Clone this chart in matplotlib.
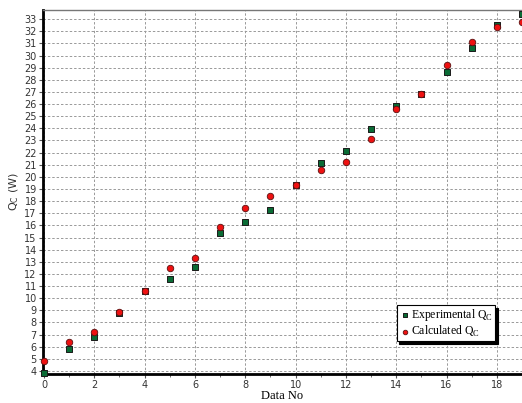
import numpy as np
import matplotlib.pyplot as plt
from matplotlib.ticker import MultipleLocator

data_no = list(range(20))
experimental_qc = [3.8, 5.85, 6.8, 8.75, 10.6, 11.55, 12.6, 15.4, 16.3, 17.3,
                   19.3, 21.1, 22.1, 23.95, 25.85, 26.85, 28.65, 30.6, 32.5, 33.45]
calculated_qc = [4.8, 6.35, 7.2, 8.9, 10.6, 12.45, 13.35, 15.85, 17.4, 18.4,
                 19.3, 20.6, 21.2, 23.15, 25.6, 26.85, 29.2, 31.15, 32.37, 32.76]

fig = plt.figure(figsize=(5.22, 4.03), dpi=100)
ax = fig.add_axes([43 / 522, 29 / 403, 1 - 43 / 522, 364 / 403])

ax.scatter(data_no, experimental_qc, marker='s', s=19, color='#0a6b35',
           edgecolors='#1a1a1a', linewidths=0.7, zorder=3, clip_on=False,
           label='Experimental Q$_\\mathregular{C}$')
ax.scatter(data_no, calculated_qc, marker='o', s=22, color='#ee1111',
           edgecolors='#5a1010', linewidths=0.6, zorder=4, clip_on=False,
           label='Calculated Q$_\\mathregular{C}$')

ax.set_xlim(-0.04, 19)
ax.set_ylim(3.75, 33.75)
ax.xaxis.set_major_locator(MultipleLocator(2))
ax.xaxis.set_minor_locator(MultipleLocator(1))
ax.yaxis.set_major_locator(MultipleLocator(1))

ax.grid(True, which='major', color='#999999', linestyle=(0, (2.5, 2)), linewidth=0.7)
ax.set_axisbelow(True)

for side in ['left', 'bottom']:
    ax.spines[side].set_linewidth(2)
    ax.spines[side].set_color('black')
ax.spines['top'].set_color('#777777')
ax.spines['top'].set_linewidth(1)
ax.spines['right'].set_visible(False)

ax.tick_params(axis='both', which='major', labelsize=7, length=3, color='#555555',
               labelcolor='#333333', pad=1.5)
ax.tick_params(axis='x', which='minor', length=2, color='#555555')

ax.set_xlabel('Data No', family='Liberation Serif', fontsize=9, labelpad=0)
ax.set_ylabel('Q$_\\mathregular{C}$ (W)', fontsize=8, labelpad=2, color='#333333')

leg = ax.legend(loc='lower left', bbox_to_anchor=(0.738, 0.09), frameon=True,
                prop={'family': 'Liberation Serif', 'size': 8.5}, fancybox=False,
                shadow={'color': 'black', 'alpha': 1}, borderpad=0.2,
                handletextpad=0.0, handlelength=1.0, labelspacing=0.05,
                borderaxespad=0, markerscale=0.7)
leg.get_frame().set_edgecolor('black')
leg.get_frame().set_linewidth(0.8)

fig.savefig('out.png', dpi=100)
